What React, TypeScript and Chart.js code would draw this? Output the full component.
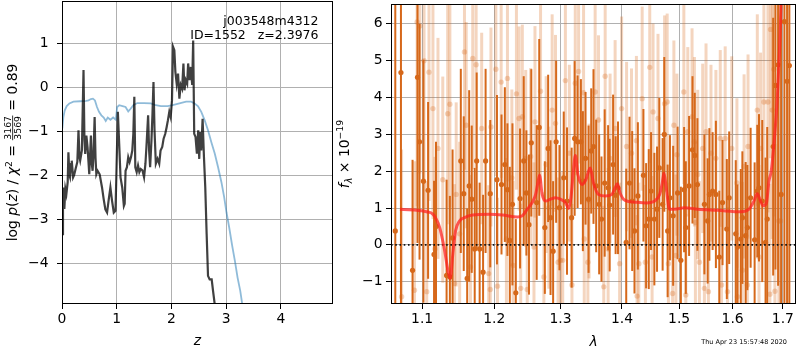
import React, { useEffect, useRef } from 'react';
import { Chart, registerables } from 'chart.js';

Chart.register(...registerables);

const FONT = "'DejaVu Sans', sans-serif";
const FS = 13.9;

// ---------- left panel: redshift PDF ----------
const zTicks = [0, 1, 2, 3, 4];
const lnpTicks = [-4, -3, -2, -1, 0, 1];

const zBlack = [
  0.006, 0.018, 0.031, 0.043, 0.061, 0.080, 0.104, 0.117, 0.135, 0.147,
  0.166, 0.178, 0.203, 0.221, 0.250, 0.280, 0.301, 0.320, 0.332, 0.363,
  0.393, 0.410, 0.424, 0.445, 0.467, 0.498, 0.528, 0.545, 0.559, 0.575,
  0.596, 0.612, 0.627, 0.650, 0.688, 0.731, 0.762, 0.792, 0.823, 0.854,
  0.884, 0.915, 0.946, 0.977, 0.995, 1.020, 1.045, 1.069, 1.100, 1.130,
  1.145, 1.161, 1.186, 1.210, 1.235, 1.260, 1.284, 1.303, 1.321, 1.339,
  1.364, 1.389, 1.413, 1.438, 1.469, 1.499, 1.524, 1.542, 1.555, 1.573,
  1.591, 1.610, 1.634, 1.653, 1.671, 1.690, 1.714, 1.745, 1.776, 1.800,
  1.831, 1.856, 1.886, 1.911, 1.935, 1.960, 1.985, 2.009, 2.028, 2.052,
  2.071, 2.095, 2.120, 2.144, 2.169, 2.194, 2.218, 2.237, 2.261, 2.286,
  2.304, 2.329, 2.353, 2.378, 2.396, 2.415, 2.439, 2.464, 2.488, 2.507,
  2.525, 2.544, 2.568, 2.593, 2.617, 2.642, 2.667, 2.697, 2.734, 2.759,
  2.790, 2.820,
];
const lnpBlack = [
  -3.34, -2.58, -2.28, -2.77, -2.31, -2.43, -2.16, -1.48, -2.00, -2.05,
  -1.75, -1.67, -2.05, -2.00, -1.85, -1.70, -0.98, -1.60, -1.67, -1.44,
  0.39, -1.20, -1.52, -1.10, -1.37, -1.98, -1.10, -1.75, -1.90, -1.55,
  -0.68, -1.60, -1.98, -1.90, -1.98, -2.28, -2.55, -2.78, -2.85, -2.55,
  -2.28, -2.59, -2.85, -2.81, -1.90, -0.56, -1.30, -2.05, -2.28, -2.70,
  -2.65, -1.90, -1.82, -1.59, -1.70, -1.59, -1.44, -1.06, -0.22, -1.82,
  -1.93, -1.78, -1.93, -1.86, -1.89, -2.05, -1.74, -1.36, -1.06, -0.64,
  -1.44, -1.82, -1.21, -0.60, 0.12, -0.98, -1.74, -1.63, -1.74, -1.44,
  -1.36, -1.17, -1.06, -0.91, -0.75, -0.56, -0.68, -0.30, 0.92, 0.84,
  0.35, 0.08, 0.31, -0.26, 0.05, -0.03, 0.54, -0.07, 0.16, 0.08,
  0.54, 0.16, 0.46, 0.05, 1.06, -1.06, -1.13, -1.51, -0.98, -1.63,
  -1.02, -1.44, -0.72, -1.59, -2.28, -3.34, -4.29, -4.37, -4.37, -4.63,
  -4.94, -5.30,
];

const zBlue = [
  0.006, 0.025, 0.049, 0.086, 0.135, 0.209, 0.332, 0.442, 0.485, 0.528,
  0.565, 0.602, 0.639, 0.676, 0.719, 0.762, 0.799, 0.836, 0.885, 0.934,
  0.983, 1.008, 1.045, 1.106, 1.161, 1.210, 1.253, 1.303, 1.376, 1.499,
  1.622, 1.714, 1.806, 1.929, 2.022, 2.144, 2.267, 2.359, 2.421, 2.482,
  2.544, 2.605, 2.667, 2.728, 2.790, 2.851, 2.912, 2.962, 3.005, 3.054,
  3.109, 3.158, 3.207, 3.256, 3.293, 3.330,
];
const lnpBlue = [
  -0.94, -0.68, -0.53, -0.43, -0.37, -0.33, -0.32, -0.31, -0.30, -0.27,
  -0.26, -0.30, -0.45, -0.56, -0.64, -0.69, -0.77, -0.69, -0.74, -0.69,
  -0.74, -0.45, -0.41, -0.43, -0.45, -0.55, -0.49, -0.41, -0.36, -0.36,
  -0.37, -0.41, -0.43, -0.43, -0.41, -0.37, -0.33, -0.33, -0.37, -0.43,
  -0.56, -0.75, -0.98, -1.25, -1.51, -1.82, -2.16, -2.50, -2.85, -3.19,
  -3.61, -3.95, -4.33, -4.63, -4.94, -5.24,
];

// ---------- right panel: spectrum ----------
const waveTicks = [1.1, 1.2, 1.3, 1.4, 1.5, 1.6, 1.7];
const fluxTicks = [-1, 0, 1, 2, 3, 4, 5, 6];

const darkWave = [
  1.0650, 1.0723, 1.0874, 1.0939, 1.0966, 1.1018, 1.1080, 1.1160, 1.1186, 1.1330,
  1.1375, 1.1412, 1.1526, 1.1567, 1.1615, 1.1643, 1.1679, 1.1721, 1.1749, 1.1791,
  1.1840, 1.1876, 1.1943, 1.2040, 1.2106, 1.2155, 1.2193, 1.2228, 1.2267, 1.2317,
  1.2380, 1.2435, 1.2475, 1.2514, 1.2549, 1.2631, 1.2670, 1.2756, 1.2807, 1.2844,
  1.2884, 1.2931, 1.2983, 1.3050, 1.3102, 1.3175, 1.3223, 1.3270, 1.3323, 1.3355,
  1.3398, 1.3447, 1.3490, 1.3527, 1.3571, 1.3620, 1.3658, 1.3711, 1.3768, 1.3794,
  1.3851, 1.3893, 1.3933, 1.4072, 1.4128, 1.4174, 1.4213, 1.4271, 1.4367, 1.4414,
  1.4460, 1.4500, 1.4558, 1.4605, 1.4645, 1.4704, 1.4733, 1.4793, 1.4834, 1.4892,
  1.4972, 1.5031, 1.5090, 1.5121, 1.5181, 1.5243, 1.5285, 1.5334, 1.5464, 1.5525,
  1.5557, 1.5618, 1.5680, 1.5744, 1.5806, 1.5888, 1.5933, 1.6060, 1.6093, 1.6157,
  1.6189, 1.6253, 1.6287, 1.6351, 1.6430, 1.6483, 1.6517, 1.6582, 1.6648, 1.6682,
  1.6802, 1.6848, 1.6902, 1.6964, 1.7031, 1.7086, 1.7133,
];
const darkFlux = [
  0.38, 4.68, -0.69, 4.55, 2.8, 1.73, 1.48, -0.26, 0.5, -0.83,
  -0.87, 0.19, 2.28, 1.39, -0.91, 1.6, 1.24, -0.11, 2.28, -0.11,
  -0.74, 2.28, 1.39, 1.77, 1.64, 2.18, 1.5, 0.12, 1.1, -1.3,
  1.26, 2.28, 1.41, 0.55, 2.77, 1.15, 3.19, 0.47, 2.62, 0.74,
  -0.17, 2.8, 1.01, 1.82, 1.19, 0.74, 2.89, 2.8, 2.8, 1.73,
  2.35, 1.24, 2.55, 2.67, 1.6, 1.1, 0.7, 1.68, 1.55, 1.08,
  2.18, 1.35, 1.55, 0.07, 1.68, 1.19, 0.38, 1.33, 1.89, 0.52,
  0.7, 1.46, 0.7, 0.97, 2.09, 1.1, 3.0, 0.38, 1.28, 0.79,
  1.41, -0.42, 1.5, 0.47, 1.6, 2.58, 2.43, 1.64, 1.1, 0.65,
  1.37, 1.46, 1.37, -0.33, 1.15, 0.43, 1.28, 0.3, -0.06, 0.16,
  0.74, 0.25, 0.47, 1.28, 0.14, 1.46, 1.55, 1.19, 0.07, 0.7,
  2.67, 4.33, 4.89, 1.37, 6.06, 4.44, 4.87,
];
const darkErr = [
  8, 8, 3.0, 4.5, 3.2, 3.3, 2.4, 2.0, 2.3, 2.6,
  2.2, 2.4, 2.5, 2.1, 1.9, 2.6, 2.0, 2.2, 2.4, 1.8,
  2.1, 2.5, 2.0, 2.3, 1.9, 2.1, 1.8, 2.0, 2.2, 2.0,
  1.9, 2.3, 1.7, 1.9, 2.0, 2.1, 2.4, 1.8, 2.0, 2.1,
  1.9, 2.2, 1.7, 1.8, 2.0, 1.9, 2.1, 1.8, 1.7, 1.9,
  1.8, 2.0, 1.7, 2.1, 1.8, 1.9, 1.7, 2.0, 1.7, 1.8,
  1.9, 1.6, 1.8, 2.0, 1.8, 1.9, 1.7, 2.0, 1.8, 1.7,
  1.9, 1.6, 1.8, 1.7, 1.9, 1.8, 2.1, 1.8, 1.7, 1.9,
  1.8, 2.0, 1.7, 1.8, 1.9, 2.0, 1.7, 1.8, 1.9, 1.7,
  1.8, 1.6, 2.0, 1.8, 1.7, 1.9, 1.8, 2.0, 1.7, 1.9,
  1.8, 2.0, 1.7, 1.9, 2.1, 1.8, 2.0, 2.2, 2.3, 2.5,
  3.5, 5, 6, 8, 8, 8, 8,
];

const lightWave = [
  1.0731, 1.0899, 1.0934, 1.0970, 1.1026, 1.1062, 1.1092, 1.1145, 1.1172, 1.1213,
  1.1278, 1.1345, 1.1375, 1.1439, 1.1462, 1.1510, 1.1577, 1.1601, 1.1661, 1.1693,
  1.1741, 1.1820, 1.1920, 1.1943, 1.1953, 1.2024, 1.2047, 1.2101, 1.2193, 1.2178,
  1.2258, 1.2277, 1.2326, 1.2365, 1.2390, 1.2414, 1.2465, 1.2488, 1.2539, 1.2590,
  1.2605, 1.2690, 1.2741, 1.2776, 1.2818, 1.2869, 1.2921, 1.2961, 1.2998, 1.3034,
  1.3076, 1.3139, 1.3180, 1.3233, 1.3286, 1.3366, 1.3377, 1.3436, 1.3455, 1.3554,
  1.3609, 1.3696, 1.3719, 1.3768, 1.3801, 1.3885, 1.3960, 1.3994, 1.4078, 1.4162,
  1.4246, 1.4258, 1.4288, 1.4345, 1.4401, 1.4477, 1.4518, 1.4535, 1.4622, 1.4739,
  1.4785, 1.4807, 1.4882, 1.4905, 1.4941, 1.4959, 1.5085, 1.5121, 1.5157, 1.5235,
  1.5279, 1.5297, 1.5340, 1.5371, 1.5432, 1.5464, 1.5494, 1.5539, 1.5587, 1.5680,
  1.5763, 1.5787, 1.5857, 1.5901, 1.5983, 1.6083, 1.6093, 1.6189, 1.6222, 1.6287,
  1.6300, 1.6483, 1.6517, 1.6549, 1.6615, 1.6696, 1.6736, 1.6748, 1.6782, 1.6816,
  1.6837, 1.6918, 1.6951,
];
const lightFlux = [
  -1.41, -1.23, 6.05, 5.94, 5.0, -1.27, 4.69, 3.7, -0.11, 2.62,
  1.77, 3.56, 3.82, -1.05, 1.37, 0.3, 5.24, 3.25, -0.6, 5.06,
  4.89, 3.16, -0.78, -1.21, 3.2, 4.77, -1.12, 4.42, 4.52, 0.16,
  1.82, -0.56, 4.1, 3.43, -1.18, 3.48, 2.35, -1.21, 2.4, -0.06,
  3.34, 4.17, -0.87, 2.18, 1.01, 3.66, 3.3, -0.47, -0.42, -0.42,
  4.46, 2.49, -1.09, 4.39, 4.71, 4.13, 0.16, -0.47, 1.19, 4.15,
  3.39, -1.14, 4.58, -0.11, 2.35, 3.16, -0.51, 3.7, 2.67, 2.49,
  2.83, -1.39, -0.51, 3.97, -0.47, 4.82, -0.33, 3.61, 3.43, 3.83,
  3.88, -0.51, -1.32, 3.25, -0.29, 2.45, 4.15, -1.36, 3.07, 3.48,
  2.8, 0.61, 1.91, -0.47, 2.62, -1.18, 3.07, -1.27, 2.49, 2.35,
  2.89, -1.09, 2.89, -1.27, 2.62, 1.68, -1.41, -0.69, 2.13, -1.09,
  2.67, 3.66, -0.33, 2.62, 3.88, 3.88, -1.34, 5.85, 3.66, 4.77,
  -1.26, 0.65, 0.65,
];
const lightErr = [
  4.0, 3.5, 5.0, 4.0, 4.0, 3.0, 3.5, 3.0, 2.5, 3.0,
  2.8, 3.0, 2.8, 2.7, 2.5, 2.5, 3.2, 2.8, 2.5, 3.0,
  2.8, 2.6, 2.4, 2.5, 2.7, 2.9, 2.4, 2.6, 2.8, 2.2,
  2.4, 2.3, 2.6, 2.5, 2.3, 2.5, 2.4, 2.2, 2.4, 2.3,
  2.6, 2.5, 2.3, 2.4, 2.2, 2.6, 2.4, 2.3, 2.2, 2.4,
  2.6, 2.4, 2.2, 2.5, 2.5, 2.4, 2.2, 2.3, 2.1, 2.5,
  2.3, 2.2, 2.6, 2.2, 2.3, 2.4, 2.2, 2.5, 2.3, 2.3,
  2.3, 2.2, 2.2, 2.5, 2.1, 2.6, 2.2, 2.4, 2.3, 2.4,
  2.4, 2.2, 2.2, 2.3, 2.2, 2.2, 2.5, 2.2, 2.3, 2.4,
  2.3, 2.2, 2.3, 2.2, 2.3, 2.2, 2.4, 2.3, 2.4, 2.4,
  2.4, 2.3, 2.5, 2.3, 2.5, 2.3, 2.3, 2.4, 2.5, 2.4,
  2.5, 2.6, 2.5, 2.6, 2.8, 3.0, 3.0, 3.5, 3.5, 4.0,
  4.0, 6.0, 8.0,
];

const modelWave = [
  1.0710, 1.1058, 1.1145, 1.1236, 1.1303, 1.1348, 1.1380, 1.1416, 1.1453, 1.1508,
  1.1577, 1.1693, 1.1929, 1.2121, 1.2340, 1.2414, 1.2488, 1.2563, 1.2615, 1.2654,
  1.2675, 1.2715, 1.2767, 1.2844, 1.2921, 1.2998, 1.3076, 1.3128, 1.3164, 1.3207,
  1.3234, 1.3275, 1.3339, 1.3403, 1.3474, 1.3527, 1.3609, 1.3719, 1.3829, 1.3885,
  1.3923, 1.3968, 1.4052, 1.4222, 1.4420, 1.4564, 1.4651, 1.4697, 1.4727, 1.4768,
  1.4827, 1.4917, 1.5097, 1.5340, 1.5712, 1.6157, 1.6319, 1.6417, 1.6483, 1.6549,
  1.6602, 1.6668, 1.6716, 1.6762, 1.6816, 1.6882, 1.6929, 1.6964, 1.7005,
];
const modelFlux = [
  0.97, 0.90, 0.83, 0.47, -0.15, -0.69, -0.91, -0.24, 0.38, 0.65,
  0.74, 0.81, 0.83, 0.81, 0.76, 0.79, 0.97, 1.15, 1.37, 1.73,
  1.89, 1.37, 1.19, 1.24, 1.28, 1.24, 1.15, 0.99, 1.28, 2.09,
  2.43, 1.91, 1.64, 1.77, 2.09, 1.68, 1.37, 1.33, 1.37, 1.55,
  1.66, 1.41, 1.21, 1.16, 1.14, 1.19, 1.37, 1.68, 1.95, 1.55,
  0.97, 0.97, 1.01, 0.97, 0.94, 0.90, 0.97, 1.19, 1.39, 1.19,
  1.06, 1.15, 1.73, 2.0, 2.72, 3.88, 5.22, 6.57, 8.0,
];

const X_RANGE_L = [0, 4.95];
const Y_RANGE_L = [-4.93, 1.96];
const X_RANGE_R = [1.0595, 1.7271];
const Y_RANGE_R = [-1.605, 6.54];

const DARK = 'rgb(214,104,26)';
const LIGHT = 'rgba(214,104,26,0.28)';

const fmtInt = (v: number) => (v < 0 ? '\u2212' : '') + String(Math.abs(Math.round(v)));
const fmt1 = (v: number) => Number(v).toFixed(1);

type Seg =
  | { t: string; font: string; dy?: number }
  | { num: string; den: string; font: string; numY: number; denY: number; barY: number };

function segWidth(ctx: CanvasRenderingContext2D, s: Seg) {
  ctx.font = s.font;
  if ('num' in s) {
    return Math.max(ctx.measureText(s.num).width, ctx.measureText(s.den).width) + 2;
  }
  return ctx.measureText(s.t).width;
}

function drawRotatedMath(ctx: CanvasRenderingContext2D, segs: Seg[], baseX: number, cy: number) {
  ctx.save();
  ctx.translate(baseX, cy);
  ctx.rotate(-Math.PI / 2);
  ctx.textBaseline = 'alphabetic';
  ctx.textAlign = 'left';
  ctx.fillStyle = '#000';
  const widths = segs.map((s) => segWidth(ctx, s));
  const total = widths.reduce((a, b) => a + b, 0);
  let x = -total / 2;
  segs.forEach((s, i) => {
    ctx.font = s.font;
    if ('num' in s) {
      const w = widths[i];
      const nw = ctx.measureText(s.num).width;
      const dw = ctx.measureText(s.den).width;
      ctx.fillText(s.num, x + (w - nw) / 2, s.numY);
      ctx.fillText(s.den, x + (w - dw) / 2, s.denY);
      ctx.fillRect(x + 0.5, s.barY - 0.4, w - 1, 0.8);
    } else {
      ctx.fillText(s.t, x, s.dy || 0);
    }
    x += widths[i];
  });
  ctx.restore();
}

function frame(ctx: CanvasRenderingContext2D, a: any) {
  ctx.save();
  ctx.strokeStyle = '#000';
  ctx.lineWidth = 1;
  ctx.strokeRect(a.left + 0.5, a.top + 0.5, a.right - a.left - 1, a.bottom - a.top - 1);
  ctx.restore();
}

const reg = `${FS}px ${FONT}`;
const ita = `italic ${FS}px ${FONT}`;
const annot = `12.5px ${FONT}`;
const small = `9.3px ${FONT}`;
const smallIta = `italic 9.7px ${FONT}`;

const leftDeco = {
  id: 'leftDeco',
  afterDraw(chart: any) {
    const ctx: CanvasRenderingContext2D = chart.ctx;
    const a = chart.chartArea;
    frame(ctx, a);
    ctx.save();
    ctx.fillStyle = '#000';
    ctx.font = annot;
    ctx.textAlign = 'right';
    ctx.textBaseline = 'alphabetic';
    ctx.fillText('j003548m4312', 318.5, 24.5);
    ctx.fillText('ID=1552   z=2.3976', 318.5, 39);
    ctx.font = ita;
    ctx.textAlign = 'center';
    ctx.fillText('z', (a.left + a.right) / 2, 345);
    ctx.restore();
    drawRotatedMath(ctx, [
      { t: 'log ', font: reg },
      { t: 'p', font: ita },
      { t: '(', font: reg },
      { t: 'z', font: ita },
      { t: ')', font: reg },
      { t: ' / ', font: reg },
      { t: '\u03c7', font: ita },
      { t: '2', font: small, dy: -5.5 },
      { t: ' = ', font: reg },
      { num: '3167', den: '3569', font: small, numY: -5.6, denY: 3.6, barY: -4.3 },
      { t: ' = 0.89', font: reg },
    ], 17, (a.top + a.bottom) / 2);
  },
};

const rightDeco = {
  id: 'rightDeco',
  afterDraw(chart: any) {
    const ctx: CanvasRenderingContext2D = chart.ctx;
    const a = chart.chartArea;
    frame(ctx, a);
    ctx.save();
    ctx.fillStyle = '#000';
    ctx.font = ita;
    ctx.textAlign = 'center';
    ctx.textBaseline = 'alphabetic';
    ctx.fillText('\u03bb', (a.left + a.right) / 2, 346);
    ctx.font = `6.5px ${FONT}`;
    ctx.textAlign = 'right';
    ctx.fillText('Thu Apr 23 15:57:48 2020', 453, 343.5);
    ctx.restore();
    drawRotatedMath(ctx, [
      { t: 'f', font: ita },
      { t: '\u03bb', font: smallIta, dy: 3 },
      { t: ' \u00d7 10', font: reg },
      { t: '\u221219', font: small, dy: -5.5 },
    ], 14.5, (a.top + a.bottom) / 2);
  },
};

const grid = { color: '#b0b0b0', lineWidth: 1, tickColor: '#000', tickLength: 5, drawTicks: true };
const tickFont = { family: FONT, size: FS };

function setTicks(values: number[]) {
  return (scale: any) => {
    scale.ticks = values.map((v) => ({ value: v }));
  };
}

export default function App() {
  const leftRef = useRef<HTMLCanvasElement>(null);
  const rightRef = useRef<HTMLCanvasElement>(null);

  useEffect(() => {
    const blackData = zBlack.map((z, i) => ({ x: z, y: lnpBlack[i] }));
    const blueData = zBlue.map((z, i) => ({ x: z, y: lnpBlue[i] }));

    const left = new Chart(leftRef.current as HTMLCanvasElement, {
      type: 'line',
      data: {
        datasets: [
          {
            data: blackData as any,
            borderColor: 'rgba(0,0,0,0.75)',
            borderWidth: 2.2,
            pointRadius: 0,
            tension: 0,
            order: 1,
            clip: 0 as any,
          },
          {
            data: blueData as any,
            borderColor: 'rgba(31,119,180,0.5)',
            borderWidth: 1.8,
            pointRadius: 0,
            tension: 0,
            order: 2,
            clip: 0 as any,
          },
        ],
      },
      options: {
        responsive: false,
        animation: false,
        devicePixelRatio: 1,
        events: [],
        layout: { padding: { left: 0, right: 7, top: 1, bottom: 0 } },
        plugins: { legend: { display: false }, tooltip: { enabled: false } },
        scales: {
          x: {
            type: 'linear',
            min: X_RANGE_L[0],
            max: X_RANGE_L[1],
            afterBuildTicks: setTicks(zTicks),
            afterFit: (s: any) => { s.height = 46; s.paddingLeft = 0; s.paddingRight = 0; },
            grid: grid as any,
            border: { display: false },
            ticks: { font: tickFont, color: '#000', padding: 2, autoSkip: false, maxRotation: 0, callback: (v: any) => fmtInt(Number(v)) },
          },
          y: {
            type: 'linear',
            min: Y_RANGE_L[0],
            max: Y_RANGE_L[1],
            afterBuildTicks: setTicks(lnpTicks),
            afterFit: (s: any) => { s.width = 62; s.paddingTop = 0; s.paddingBottom = 0; },
            grid: grid as any,
            border: { display: false },
            ticks: { font: tickFont, color: '#000', padding: 8.5, autoSkip: false, callback: (v: any) => fmtInt(Number(v)) },
          },
        },
      },
      plugins: [leftDeco],
    });

    const lightBars = lightWave.map((w, i) => ({ x: w, y: [lightFlux[i] - lightErr[i], lightFlux[i] + lightErr[i]] }));
    const lightPts = lightWave.map((w, i) => ({ x: w, y: lightFlux[i] }));
    const darkBars = darkWave.map((w, i) => ({ x: w, y: [darkFlux[i] - darkErr[i], darkFlux[i] + darkErr[i]] }));
    const darkPts = darkWave.map((w, i) => ({ x: w, y: darkFlux[i] }));
    const modelData = modelWave.map((w, i) => ({ x: w, y: modelFlux[i] }));
    const zeroData = [{ x: X_RANGE_R[0], y: 0 }, { x: X_RANGE_R[1], y: 0 }];

    const right = new Chart(rightRef.current as HTMLCanvasElement, {
      type: 'scatter',
      data: {
        datasets: [
          {
            type: 'bar',
            data: lightBars as any,
            backgroundColor: LIGHT,
            borderWidth: 0,
            grouped: false,
            barPercentage: 100,
            categoryPercentage: 1,
            maxBarThickness: 3,
            order: 6,
          } as any,
          {
            type: 'scatter',
            data: lightPts as any,
            backgroundColor: LIGHT,
            borderWidth: 0,
            pointRadius: 2.7,
            order: 5,
          },
          {
            type: 'bar',
            data: darkBars as any,
            backgroundColor: DARK,
            borderWidth: 0,
            grouped: false,
            barPercentage: 100,
            categoryPercentage: 1,
            maxBarThickness: 2,
            order: 4,
          } as any,
          {
            type: 'scatter',
            data: darkPts as any,
            backgroundColor: DARK,
            borderWidth: 0,
            pointRadius: 2.6,
            order: 3,
          },
          {
            type: 'line',
            data: zeroData as any,
            borderColor: '#111',
            borderWidth: 1.6,
            borderDash: [1.6, 2.64],
            pointRadius: 0,
            order: 2,
          },
          {
            type: 'line',
            data: modelData as any,
            borderColor: 'rgba(255,30,30,0.72)',
            borderWidth: 3,
            pointRadius: 0,
            cubicInterpolationMode: 'monotone',
            order: 1,
            clip: 0 as any,
          },
        ],
      },
      options: {
        responsive: false,
        animation: false,
        devicePixelRatio: 1,
        events: [],
        layout: { padding: { left: 0, right: 1, top: 1, bottom: 0 } },
        plugins: { legend: { display: false }, tooltip: { enabled: false } },
        scales: {
          x: {
            type: 'logarithmic',
            offset: false,
            min: X_RANGE_R[0],
            max: X_RANGE_R[1],
            afterBuildTicks: setTicks(waveTicks),
            afterFit: (s: any) => { s.height = 46; s.paddingLeft = 0; s.paddingRight = 0; },
            grid: { ...grid, offset: false } as any,
            border: { display: false },
            ticks: { font: tickFont, color: '#000', padding: 2, autoSkip: false, maxRotation: 0, callback: (v: any) => fmt1(Number(v)) },
          },
          y: {
            type: 'linear',
            min: Y_RANGE_R[0],
            max: Y_RANGE_R[1],
            afterBuildTicks: setTicks(fluxTicks),
            afterFit: (s: any) => { s.width = 57; s.paddingTop = 0; s.paddingBottom = 0; },
            grid: grid as any,
            border: { display: false },
            ticks: { font: tickFont, color: '#000', padding: 3.5, autoSkip: false, callback: (v: any) => fmtInt(Number(v)) },
          },
        },
      },
      plugins: [rightDeco],
    });

    return () => {
      left.destroy();
      right.destroy();
    };
  }, []);

  return (
    <div style={{ position: 'absolute', left: 0, top: 0, width: 800, height: 350, background: '#fff' }}>
      <canvas ref={leftRef} width={340} height={350} style={{ position: 'absolute', left: 0, top: 0, width: 340, height: 350 }} />
      <canvas ref={rightRef} width={466} height={350} style={{ position: 'absolute', left: 334, top: 0, width: 466, height: 350 }} />
    </div>
  );
}
